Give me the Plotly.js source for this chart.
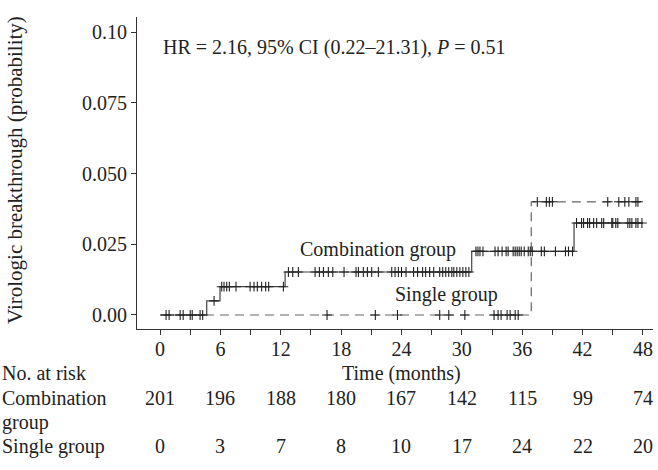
<!DOCTYPE html>
<html>
<head>
<meta charset="utf-8">
<script src="https://cdn.plot.ly/plotly-3.0.1.min.js"></script>
<style>html,body{margin:0;padding:0;background:#fff;}#chart{width:658px;height:470px;}</style>
</head>
<body>
<div id="chart"></div>
<script>
// ---- Data ----
const combEventTimes = [4.64, 5.96, 12.43, 30.98, 41.15];
const combEventLevels = [0.0050, 0.0100, 0.0152, 0.0225, 0.0325];
const combCensorTimes = [0.6,0.9,2.0,2.3,3.0,3.2,3.98,4.24,
  5.37,
  6.13,6.36,6.63,6.89,7.55,8.95,9.34,9.67,10.1,10.5,10.8,12.26,
  12.76,13.19,13.75,15.41,15.84,16.24,16.73,17.17,18.29,19.48,19.72,20.21,20.61,21.04,21.7,23.03,23.36,23.69,24.0,24.45,25.2,25.6,26.1,26.4,26.8,27.2,27.8,28.1,28.4,28.7,29.0,29.2,29.5,29.8,30.1,30.4,30.7,
  31.4,31.6,31.8,32.1,33.3,33.6,34.0,34.4,34.6,35.1,35.3,35.5,35.7,35.9,36.2,36.6,36.8,37.0,37.9,38.2,39.3,40.3,40.6,41.0,
  41.4,41.9,42.1,42.5,42.7,43.1,43.4,43.9,44.1,44.9,45.0,45.3,45.5,46.5,46.7,46.9,47.3,47.5,47.9];
const singleEventTimes = [36.9];
const singleEventLevels = [0.040];
const singleCensorTimes = [16.6,21.4,23.6,27.8,28.7,30.3,33.2,33.6,33.9,34.5,34.8,35.3,35.6,
  37.5,38.4,38.7,39.0,44.5,45.6,46.2,46.6,47.3,47.5];
const endTime = 48;
const xTickLabels = [0, 6, 12, 18, 24, 30, 36, 42, 48];
const yTickVals = [0, 0.025, 0.05, 0.075, 0.10];
const yTickText = ['0.00', '0.025', '0.050', '0.075', '0.10'];
const riskTimes = [0, 6, 12, 18, 24, 30, 36, 42, 48];
const riskComb = [201, 196, 188, 180, 167, 142, 115, 99, 74];
const riskSingle = [0, 3, 7, 8, 10, 17, 24, 22, 20];
const groupNames = ['Combination group', 'Single group'];
const hrText = 'HR = 2.16, 95% CI (0.22\u201321.31), <i>P</i> = 0.51';

// ---- Helpers ----
function stepXY(times, levels, end) {
  const x = [0], y = [0];
  times.forEach((t, i) => { x.push(t); y.push(levels[i]); });
  x.push(end); y.push(levels[levels.length - 1]);
  return {x, y};
}
function levelAt(times, levels, t) {
  let v = 0;
  times.forEach((tt, i) => { if (tt <= t) v = levels[i]; });
  return v;
}

const comb = stepXY(combEventTimes, combEventLevels, endTime);
const single = stepXY(singleEventTimes, singleEventLevels, endTime);
const FONT = 'Liberation Serif, Times New Roman, serif';
const TXT = '#222';
const FS = 20;

const traces = [
  {x: single.x, y: single.y, mode: 'lines', line: {shape: 'hv', color: '#666', width: 1.2, dash: '9px,6px'}, hoverinfo: 'skip'},
  {x: singleCensorTimes, y: singleCensorTimes.map(t => levelAt(singleEventTimes, singleEventLevels, t)),
   mode: 'markers', marker: {symbol: 'cross-thin', size: 7, line: {width: 1.1, color: '#222'}}},
  {x: comb.x, y: comb.y, mode: 'lines', line: {shape: 'hv', color: '#444', width: 1.2}, hoverinfo: 'skip'},
  {x: combCensorTimes, y: combCensorTimes.map(t => levelAt(combEventTimes, combEventLevels, t)),
   mode: 'markers', marker: {symbol: 'cross-thin', size: 7, line: {width: 1.1, color: '#222'}}}
];

const xTickVals = [];
for (let v = 0; v <= endTime; v += 3) xTickVals.push(v);
const xTickText = xTickVals.map(v => xTickLabels.includes(v) ? String(v) : '');

const plotW = 516, plotH = 312; // plot area in px
const py = p => (329 - p) / plotH; // page y px -> paper
const px = p => (p - 137) / plotW;  // page x px -> paper

const ann = [];
ann.push({x: 0.1, y: 0.0945, xref: 'x', yref: 'y', text: hrText, showarrow: false, xanchor: 'left', yanchor: 'middle', font: {size: FS}});
ann.push({x: 21.7, y: 0.0232, xref: 'x', yref: 'y', text: groupNames[0], showarrow: false, xanchor: 'center', yanchor: 'middle', font: {size: FS}});
ann.push({x: 28.5, y: 0.0074, xref: 'x', yref: 'y', text: groupNames[1], showarrow: false, xanchor: 'center', yanchor: 'middle', font: {size: FS}});
ann.push({x: px(15), y: py(170), xref: 'paper', yref: 'paper', text: 'Virologic breakthrough (probability)', textangle: -90, showarrow: false, xanchor: 'center', yanchor: 'middle', font: {size: 21}});
ann.push({x: px(0), y: py(373), xref: 'paper', yref: 'paper', text: 'No. at risk', showarrow: false, xanchor: 'left', yanchor: 'middle', font: {size: FS}});
ann.push({x: 24, y: py(373), xref: 'x', yref: 'paper', text: 'Time (months)', showarrow: false, xanchor: 'center', yanchor: 'middle', font: {size: FS}});
ann.push({x: px(0), y: py(398), xref: 'paper', yref: 'paper', text: 'Combination', showarrow: false, xanchor: 'left', yanchor: 'middle', font: {size: FS}});
ann.push({x: px(0), y: py(422), xref: 'paper', yref: 'paper', text: 'group', showarrow: false, xanchor: 'left', yanchor: 'middle', font: {size: FS}});
ann.push({x: px(0), y: py(446), xref: 'paper', yref: 'paper', text: 'Single group', showarrow: false, xanchor: 'left', yanchor: 'middle', font: {size: FS}});
riskTimes.forEach((t, i) => {
  ann.push({x: t, y: py(398), xref: 'x', yref: 'paper', text: String(riskComb[i]), showarrow: false, xanchor: 'center', yanchor: 'middle', font: {size: FS}});
  ann.push({x: t, y: py(446), xref: 'x', yref: 'paper', text: String(riskSingle[i]), showarrow: false, xanchor: 'center', yanchor: 'middle', font: {size: FS}});
});

const layout = {
  width: 658, height: 470,
  margin: {l: 137, r: 5, t: 17, b: 141, pad: 0},
  paper_bgcolor: '#fff', plot_bgcolor: '#fff',
  showlegend: false,
  font: {family: FONT, size: FS, color: TXT},
  xaxis: {range: [-2.29, 49.0], tickvals: xTickVals, ticktext: xTickText, ticks: 'outside', ticklen: 5, tickwidth: 1, tickcolor: '#333',
          ticklabelstandoff: -3,
          showline: true, linecolor: '#333', linewidth: 1, showgrid: false, zeroline: false, tickfont: {size: FS}},
  yaxis: {range: [-0.00495, 0.1053], tickvals: yTickVals, ticktext: yTickText, ticks: 'outside', ticklen: 5, tickwidth: 1, tickcolor: '#333',
          showline: true, linecolor: '#333', linewidth: 1, showgrid: false, zeroline: false, tickfont: {size: FS}},
  annotations: ann
};

Plotly.newPlot('chart', traces, layout, {staticPlot: true, displayModeBar: false});
</script>
</body>
</html>
